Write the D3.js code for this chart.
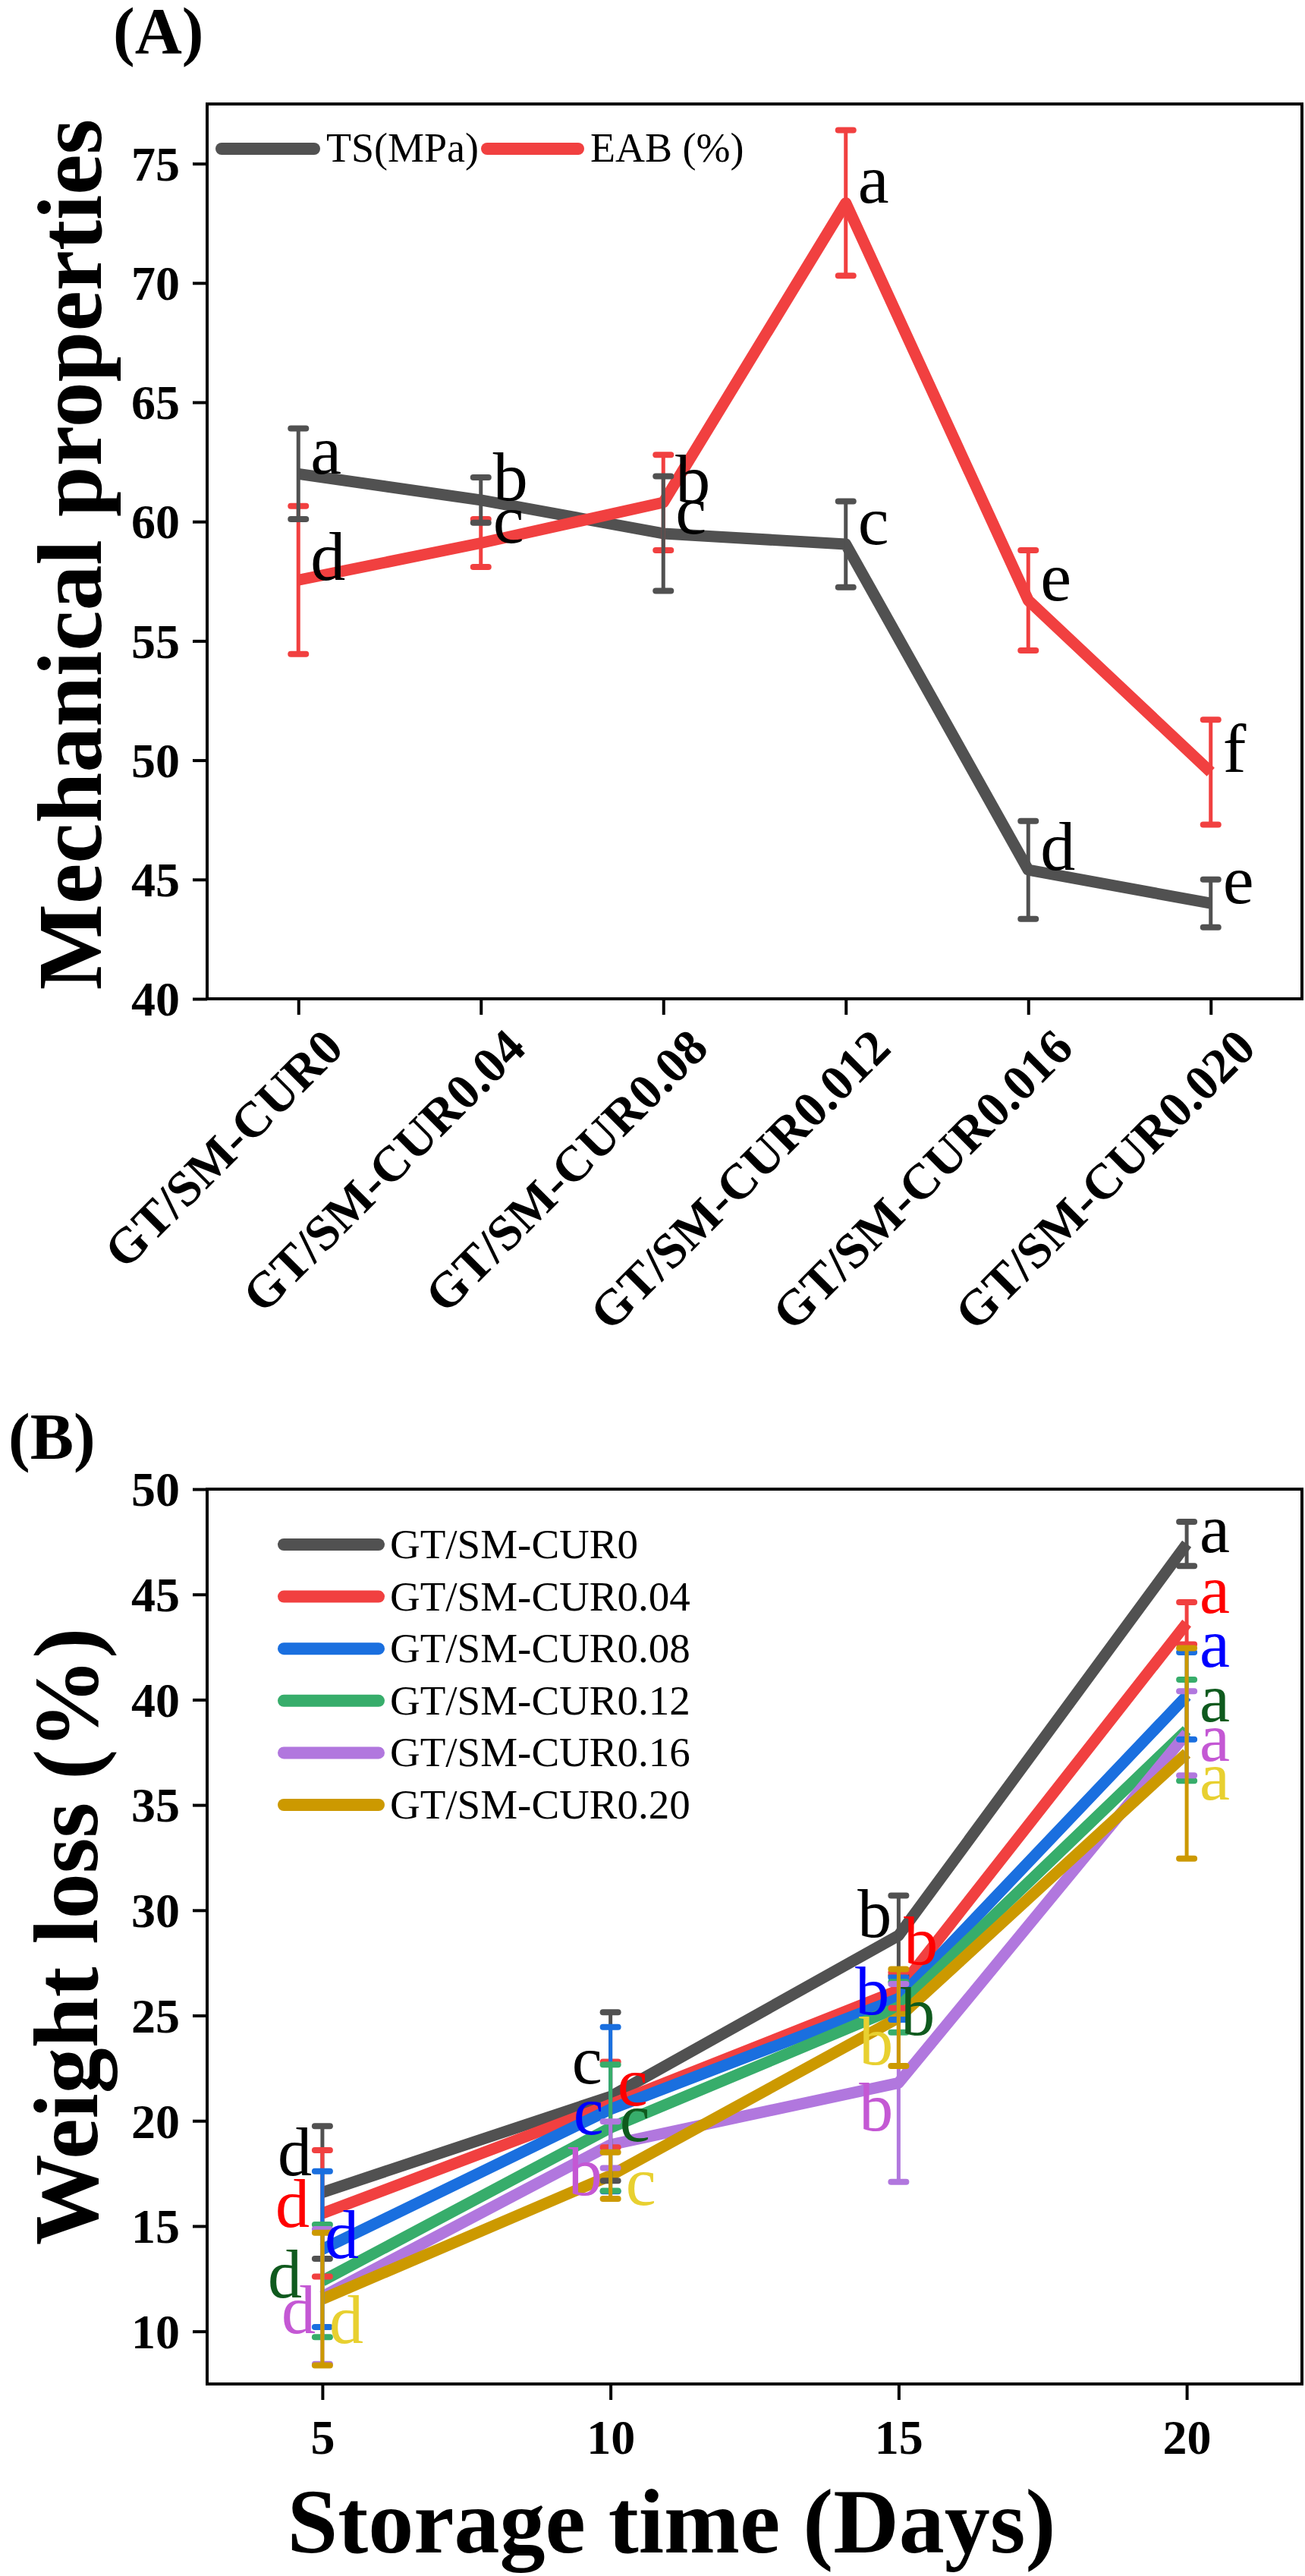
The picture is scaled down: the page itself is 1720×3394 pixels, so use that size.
<!DOCTYPE html>
<html>
<head>
<meta charset="utf-8">
<script src="https://cdn.jsdelivr.net/npm/d3@7"></script>
<style>
  html, body { margin: 0; padding: 0; background: #ffffff; }
  svg { display: block; }
  text { font-family: "Liberation Serif", "Times New Roman", Times, serif; }
</style>
</head>
<body>
<script>
// ---------------- DATA : panel A ----------------
const categoriesA = ["GT/SM-CUR0", "GT/SM-CUR0.04", "GT/SM-CUR0.08", "GT/SM-CUR0.012", "GT/SM-CUR0.016", "GT/SM-CUR0.020"];
const tsMean  = [62.0, 60.9, 59.5, 59.05, 45.4, 44.0];
const tsErr   = [1.9, 0.95, 2.4, 1.8, 2.05, 1.0];
const tsLetters = ["a", "b", "c", "c", "d", "e"];
const eabMean = [57.55, 59.1, 60.8, 73.35, 56.7, 49.5];
const eabErr  = [3.1, 1.0, 2.0, 3.05, 2.1, 2.2];
const eabLetters = ["d", "c", "b", "a", "e", "f"];
const seriesNamesA = ["TS(MPa)", "EAB (%)"];
const yTicksA = [40, 45, 50, 55, 60, 65, 70, 75];

// ---------------- DATA : panel B ----------------
const days = [5, 10, 15, 20];
const seriesNamesB = ["GT/SM-CUR0", "GT/SM-CUR0.04", "GT/SM-CUR0.08", "GT/SM-CUR0.12", "GT/SM-CUR0.16", "GT/SM-CUR0.20"];
const wlCur0    = [16.6, 21.15, 28.8, 47.4];
const wlCur0Err = [3.15, 4.0, 1.9, 1.05];
const wlCur004    = [15.6, 20.77, 26.2, 43.63];
const wlCur004Err = [3.0, 2.03, 0.85, 1.0];
const wlCur008    = [13.9, 20.55, 25.8, 40.18];
const wlCur008Err = [3.7, 3.9, 1.0, 2.07];
const wlCur012    = [12.4, 19.67, 25.4, 38.55];
const wlCur012Err = [2.67, 3.0, 1.2, 2.4];
const wlCur016    = [11.65, 18.86, 21.8, 38.4];
const wlCur016Err = [3.2, 1.1, 4.7, 2.0];
const wlCur020    = [11.53, 17.4, 24.9, 37.45];
const wlCur020Err = [3.15, 1.1, 2.3, 5.0];
const lettersB = [
  ["d", "c", "b", "a"],
  ["d", "c", "b", "a"],
  ["d", "c", "b", "a"],
  ["d", "c", "b", "a"],
  ["d", "b", "b", "a"],
  ["d", "c", "b", "a"]
];
const yTicksB = [10, 15, 20, 25, 30, 35, 40, 45, 50];

// ---------------- STYLE / LAYOUT ----------------
const colors = ["#515151", "#F14040", "#1A6FDF", "#37AD6B", "#B177DE", "#CC9900"];
const letterColorsB = ["#000000", "#FF0000", "#0000FF", "#0F5A1E", "#C458D4", "#E8D030"];
// label offsets (px) relative to each point: [dx, dy, anchor]
const labelOffsetsB = [
  [[-14, -23, "end"], [-11, -17, "end"], [-9, 2, "end"],   [17, 11, "start"]],
  [[-17, 18, "end"],  [9, 1, "start"],   [7, -34, "start"], [17, -14, "start"]],
  [[3, 12, "start"],  [-9, 33, "end"],   [-12, 21, "end"],  [17, -38, "start"]],
  [[-27, 22, "end"],  [12, 18, "start"], [3, 37, "start"],  [17, -12, "start"]],
  [[-9, 48, "end"],   [-11, 66, "end"],  [-7, 63, "end"],   [17, 36, "start"]],
  [[9, 58, "start"],  [20, 39, "start"], [-7, 62, "end"],   [17, 61, "start"]]
];

const W = 1720, H = 3394;
const svg = d3.select("body").append("svg").attr("width", W).attr("height", H);
svg.append("rect").attr("width", W).attr("height", H).attr("fill", "#fff");

const LINE_W = 15, BAR_W = 5, CAP_W = 8, CAP_HALF = 10;
const FONT = "'Liberation Serif', 'Times New Roman', serif";

function drawErrorBars(g, pts, color) {
  const eb = g.append("g");
  pts.forEach(p => {
    eb.append("line").attr("x1", p.x).attr("x2", p.x).attr("y1", p.yTop).attr("y2", p.yBot)
      .attr("stroke", color).attr("stroke-width", BAR_W);
    [p.yTop, p.yBot].forEach(yy => {
      eb.append("line").attr("x1", p.x - CAP_HALF).attr("x2", p.x + CAP_HALF)
        .attr("y1", yy).attr("y2", yy)
        .attr("stroke", color).attr("stroke-width", CAP_W).attr("stroke-linecap", "round");
    });
  });
}

function styleAxis(g) {
  g.select(".domain").remove();
  g.selectAll(".tick line").attr("stroke", "#000").attr("stroke-width", 4);
  g.selectAll(".tick text").attr("fill", "#000").attr("font-family", FONT)
    .attr("font-weight", "bold").attr("font-size", 64);
}

// ================= PANEL A =================
const A = { left: 273, right: 1716, top: 137, bottom: 1316 };
const xA = d3.scalePoint().domain(categoriesA).range([A.left, A.right]).padding(0.5);
const yA = d3.scaleLinear().domain([40, 77.5]).range([A.bottom, A.top]);

const gA = svg.append("g");
const yAxA = gA.append("g").attr("transform", `translate(${A.left},0)`)
  .call(d3.axisLeft(yA).tickValues(yTicksA).tickSize(19).tickPadding(17).tickFormat(d3.format("d")));
styleAxis(yAxA);
yAxA.selectAll(".tick text").attr("dy", "0.34em");
const xAxA = gA.append("g").attr("transform", `translate(0,${A.bottom})`)
  .call(d3.axisBottom(xA).tickSize(21).tickFormat(""));
styleAxis(xAxA);
gA.append("g").selectAll("text").data(categoriesA).join("text")
  .attr("transform", d => `translate(${xA(d) + 62},1384) rotate(-45)`)
  .attr("text-anchor", "end").attr("font-weight", "bold").attr("font-size", 66)
  .attr("font-family", FONT).attr("fill", "#000").text(d => d);

gA.append("rect").attr("x", A.left).attr("y", A.top).attr("width", A.right - A.left)
  .attr("height", A.bottom - A.top).attr("fill", "none").attr("stroke", "#000").attr("stroke-width", 4);

const seriesA = [
  { name: seriesNamesA[0], mean: tsMean, err: tsErr, letters: tsLetters, color: colors[0] },
  { name: seriesNamesA[1], mean: eabMean, err: eabErr, letters: eabLetters, color: colors[1] }
];
const lineA = d3.line().x((d, i) => xA(categoriesA[i])).y(d => yA(d));
seriesA.forEach(s => {
  gA.append("path").attr("d", lineA(s.mean)).attr("fill", "none").attr("stroke", s.color)
    .attr("stroke-width", LINE_W).attr("stroke-linejoin", "round");
});
seriesA.slice().reverse().forEach(s => {
  const pts = s.mean.map((m, i) => ({ x: xA(categoriesA[i]), yTop: yA(m + s.err[i]), yBot: yA(m - s.err[i]) }));
  drawErrorBars(gA, pts, s.color);
});
seriesA.forEach(s => {
  gA.append("g").selectAll("text").data(s.mean).join("text")
    .attr("x", (d, i) => xA(categoriesA[i]) + 16).attr("y", d => yA(d))
    .attr("font-size", 92).attr("font-family", FONT).attr("fill", "#000")
    .text((d, i) => s.letters[i]);
});
const legA = gA.append("g");
[[292, 414, 430], [642, 762, 778]].forEach((pos, i) => {
  legA.append("line").attr("x1", pos[0]).attr("x2", pos[1]).attr("y1", 196).attr("y2", 196)
    .attr("stroke", seriesA[i].color).attr("stroke-width", 16).attr("stroke-linecap", "round");
  legA.append("text").attr("x", pos[2]).attr("y", 213).attr("font-size", 54)
    .attr("font-family", FONT).attr("fill", "#000").text(seriesA[i].name);
});
gA.append("text").attr("transform", `translate(133,${(A.top + A.bottom) / 2 + 4}) rotate(-90)`)
  .attr("text-anchor", "middle").attr("font-weight", "bold").attr("font-size", 120)
  .attr("font-family", FONT).text("Mechanical properties");
gA.append("text").attr("x", 149).attr("y", 70).attr("font-weight", "bold").attr("font-size", 86)
  .attr("font-family", FONT).text("(A)");

// ================= PANEL B =================
const B = { left: 273, right: 1716, top: 1962, bottom: 3141 };
const xB = d3.scaleLinear().domain([3, 22]).range([B.left, B.right]);
const yB = d3.scaleLinear().domain([7.5, 50]).range([B.bottom, B.top]);
const gB = svg.append("g");

const yAxB = gB.append("g").attr("transform", `translate(${B.left},0)`)
  .call(d3.axisLeft(yB).tickValues(yTicksB).tickSize(19).tickPadding(17).tickFormat(d3.format("d")));
styleAxis(yAxB);
yAxB.selectAll(".tick text").attr("dy", "0.34em");
const xAxB = gB.append("g").attr("transform", `translate(0,${B.bottom})`)
  .call(d3.axisBottom(xB).tickValues(days).tickSize(21).tickFormat(d3.format("d")));
styleAxis(xAxB);
xAxB.selectAll(".tick text").attr("y", 92).attr("dy", 0);

gB.append("rect").attr("x", B.left).attr("y", B.top).attr("width", B.right - B.left)
  .attr("height", B.bottom - B.top).attr("fill", "none").attr("stroke", "#000").attr("stroke-width", 4);

const meansB = [wlCur0, wlCur004, wlCur008, wlCur012, wlCur016, wlCur020];
const errsB = [wlCur0Err, wlCur004Err, wlCur008Err, wlCur012Err, wlCur016Err, wlCur020Err];
const lineB = d3.line().x((d, i) => xB(days[i])).y(d => yB(d));
meansB.forEach((m, k) => {
  gB.append("path").attr("d", lineB(m)).attr("fill", "none").attr("stroke", colors[k])
    .attr("stroke-width", LINE_W).attr("stroke-linejoin", "round");
});
meansB.forEach((m, k) => {
  const pts = m.map((v, i) => ({ x: xB(days[i]), yTop: yB(v + errsB[k][i]), yBot: yB(v - errsB[k][i]) }));
  drawErrorBars(gB, pts, colors[k]);
});
meansB.forEach((m, k) => {
  gB.append("g").selectAll("text").data(m).join("text")
    .attr("x", (d, i) => xB(days[i]) + labelOffsetsB[k][i][0])
    .attr("y", (d, i) => yB(d) + labelOffsetsB[k][i][1])
    .attr("text-anchor", (d, i) => labelOffsetsB[k][i][2])
    .attr("font-size", 90).attr("font-family", FONT).attr("fill", letterColorsB[k])
    .text((d, i) => lettersB[k][i]);
});
const legB = gB.append("g");
seriesNamesB.forEach((name, k) => {
  const cy = 2035 + k * 68.6;
  legB.append("line").attr("x1", 374).attr("x2", 499).attr("y1", cy).attr("y2", cy)
    .attr("stroke", colors[k]).attr("stroke-width", 16).attr("stroke-linecap", "round");
  legB.append("text").attr("x", 514).attr("y", cy + 18).attr("font-size", 55)
    .attr("font-family", FONT).attr("fill", "#000").text(name);
});
gB.append("text").attr("transform", `translate(128,${(B.top + B.bottom) / 2}) rotate(-90)`)
  .attr("text-anchor", "middle").attr("font-weight", "bold").attr("font-size", 120)
  .attr("font-family", FONT).text("Weight loss (%)");
gB.append("text").attr("x", 885).attr("y", 3363).attr("text-anchor", "middle")
  .attr("font-weight", "bold").attr("font-size", 120).attr("font-family", FONT)
  .text("Storage time (Days)");
gB.append("text").attr("x", 11).attr("y", 1922).attr("font-weight", "bold").attr("font-size", 86)
  .attr("font-family", FONT).text("(B)");
</script>
</body>
</html>
